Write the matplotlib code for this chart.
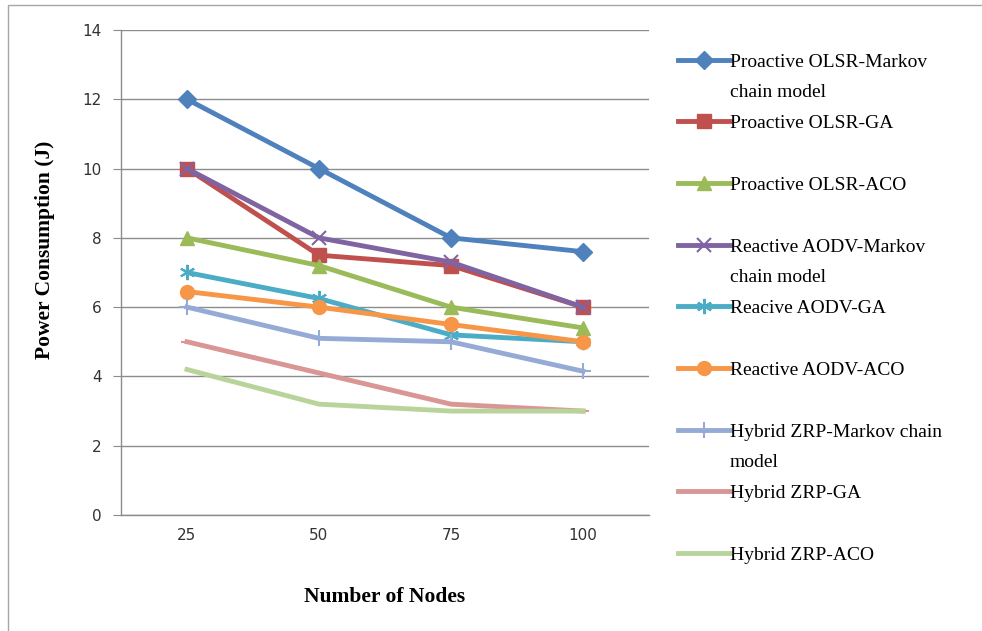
"""Power consumption vs number of nodes for the routing protocol variants."""

import matplotlib

matplotlib.use("Agg")

import matplotlib.pyplot as plt
from matplotlib.lines import Line2D
from matplotlib.patches import Rectangle

nodes = ["25", "50", "75", "100"]

olsr_markov = [12.0, 10.0, 8.0, 7.6]
olsr_ga = [10.0, 7.5, 7.2, 6.0]
olsr_aco = [8.0, 7.2, 6.0, 5.4]
aodv_markov = [10.0, 8.0, 7.3, 6.0]
aodv_ga = [7.0, 6.25, 5.2, 5.0]
aodv_aco = [6.45, 6.0, 5.5, 5.0]
zrp_markov = [6.0, 5.1, 5.0, 4.15]
zrp_ga = [5.0, 4.1, 3.2, 3.0]
zrp_aco = [4.2, 3.2, 3.0, 3.0]

# (values, first legend line, continuation line, colour, marker, marker size)
series = [
    (olsr_markov, "Proactive OLSR-Markov", "chain model", "#4F81BD", "D", 9),
    (olsr_ga, "Proactive OLSR-GA", None, "#C0504D", "s", 10),
    (olsr_aco, "Proactive OLSR-ACO", None, "#9BBB59", "^", 10),
    (aodv_markov, "Reactive AODV-Markov", "chain model", "#8064A2", "x", 10),
    (aodv_ga, "Reacive AODV-GA", None, "#4BACC6", (6, 2, 0), 11),
    (aodv_aco, "Reactive AODV-ACO", None, "#F79646", "o", 10),
    (zrp_markov, "Hybrid ZRP-Markov chain", "model", "#95ABD5", "+", 11),
    (zrp_ga, "Hybrid ZRP-GA", None, "#D99694", "_", 9),
    (zrp_aco, "Hybrid ZRP-ACO", None, "#B9D49A", None, 0),
]

fig = plt.figure(figsize=(9.82, 6.31), dpi=100)
ax = fig.add_axes([0.1232, 0.1838, 0.5377, 0.7687])

x = list(range(len(nodes)))
handles = []
labels = []
for values, label, cont, color, marker, msize in series:
    thin = marker in ("x", "+", "_") or isinstance(marker, tuple)
    line, = ax.plot(x, values, color=color, lw=3.5, marker=marker,
                    markersize=msize, markeredgewidth=1.5 if thin else 1,
                    markeredgecolor=color, markerfacecolor=color,
                    solid_joinstyle="round")
    handles.append(line)
    labels.append(label)
    # second row of each legend slot: wrapped text or blank
    handles.append(Line2D([], [], linestyle="none"))
    labels.append(cont if cont else " ")

ax.set_xlim(-0.5, len(nodes) - 0.5)
ax.set_ylim(0, 14)
ax.set_yticks(range(0, 15, 2))
ax.set_xticks(x)
ax.set_xticklabels(nodes)

grid_color = "#8C8C8C"
ax.grid(axis="y", color=grid_color, lw=1)
ax.set_axisbelow(True)
for side in ("top", "right"):
    ax.spines[side].set_visible(False)
for side in ("left", "bottom"):
    ax.spines[side].set_color(grid_color)
    ax.spines[side].set_linewidth(1)

ax.tick_params(axis="y", direction="out", length=6, color=grid_color,
               labelsize=11, labelcolor="#333333", pad=8)
ax.tick_params(axis="x", length=0, labelsize=11, labelcolor="#333333", pad=9)

label_font = {"family": "Liberation Serif", "weight": "bold", "size": 15.5}
ax.set_ylabel("Power Consumption (J)", fontdict=label_font)
ax.yaxis.set_label_coords(-0.125, 0.546)
ax.set_xlabel("Number of Nodes", fontdict=label_font, labelpad=32)

fig.legend(handles, labels, loc="upper left",
           bbox_to_anchor=(0.690, 0.916), frameon=False,
           prop={"family": "Liberation Serif", "size": 14},
           handlelength=2.7, handletextpad=0.0, labelspacing=0.68,
           borderpad=0, borderaxespad=0)

fig.patches.append(Rectangle((8 / 982, -0.1), 1.2, 1.1 - 5 / 631,
                             transform=fig.transFigure, fill=False,
                             edgecolor="#A6A6A6", lw=1))

fig.savefig("out.png", dpi=100)
plt.close(fig)
